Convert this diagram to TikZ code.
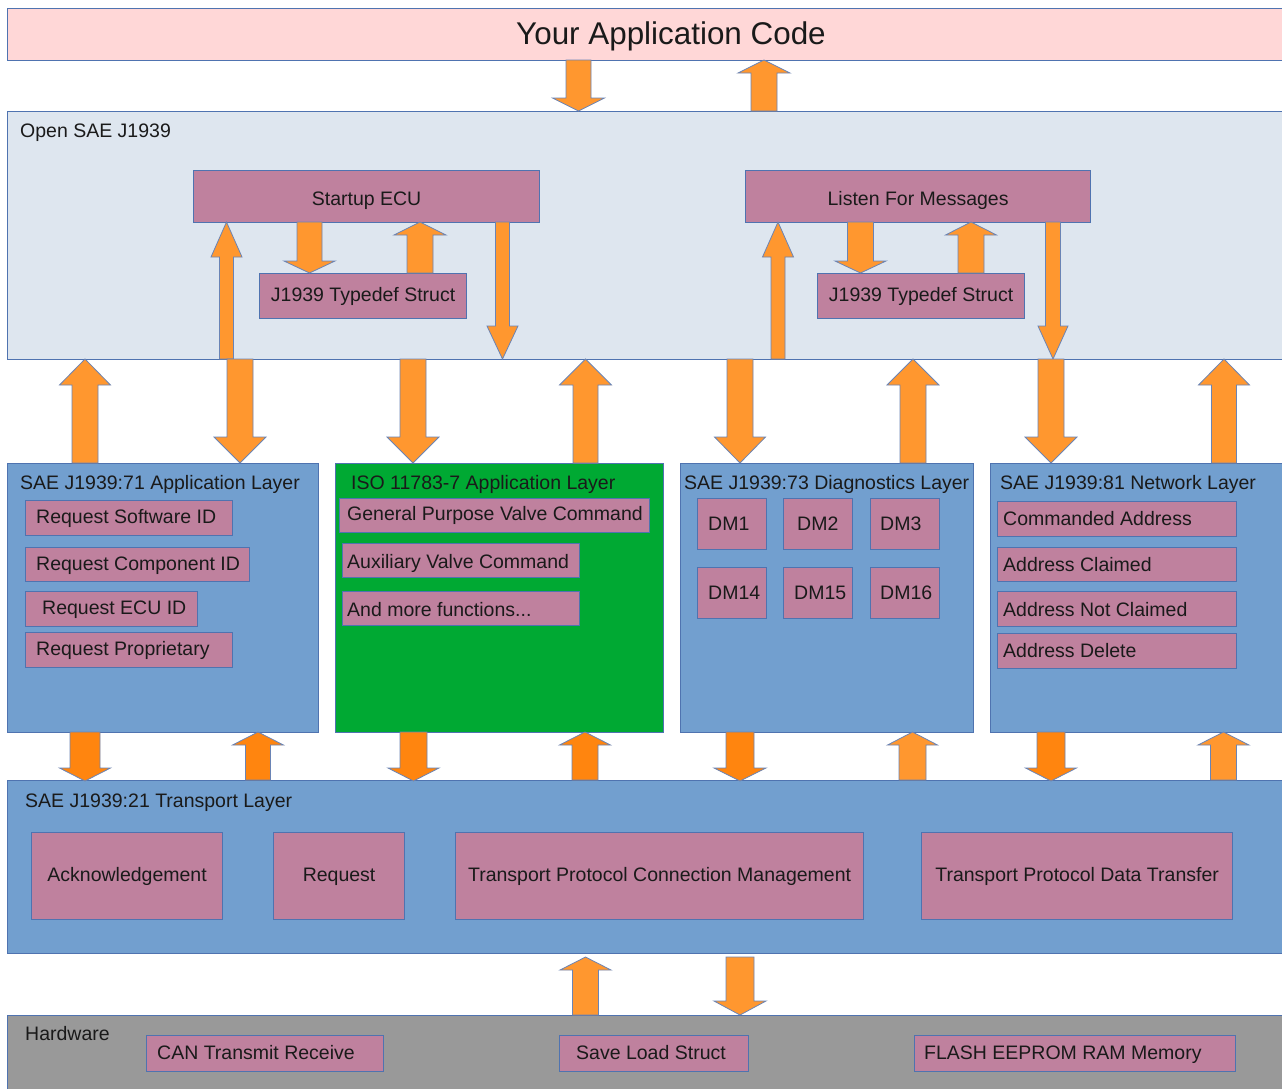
\documentclass[tikz,border=0pt]{standalone}
\usepackage{fontspec}
\setmainfont{Liberation Sans}
\definecolor{topc}{HTML}{FFD7D7}
\definecolor{openc}{HTML}{DEE6EF}
\definecolor{layerc}{HTML}{729FCF}
\definecolor{greenc}{HTML}{00A933}
\definecolor{pinkc}{HTML}{BF819E}
\definecolor{hwc}{HTML}{999999}
\definecolor{bordc}{HTML}{4F73B0}
\definecolor{arrbord}{HTML}{6A84B5}
\definecolor{orlight}{HTML}{FF972F}
\definecolor{ordark}{HTML}{FF850F}
\definecolor{txtc}{HTML}{1A1A1A}
\newcommand{\fs}{\fontsize{19.5pt}{22pt}\selectfont}
% #1 x, #2 tail y, #3 head base y, #4 tip y, #5 shaft half width, #6 head half width, #7 colour
\newcommand{\blockarrow}[7]{%
  \filldraw[draw=arrbord, line width=0.8pt, line join=miter, fill=#7]
    (#1-#5,#2) -- (#1+#5,#2) -- (#1+#5,#3) -- (#1+#6,#3) -- (#1,#4)
    -- (#1-#6,#3) -- (#1-#5,#3) -- cycle;}
\begin{document}
\begin{tikzpicture}[x=1pt,y=-1pt,
  box/.style={draw=bordc, line width=1.2pt, anchor=north west, inner sep=0pt, font=\fs, text=txtc},
  item/.style={box, fill=pinkc, text height=14pt, text depth=4pt},
  itemtxt/.style={anchor=west, inner sep=0pt, font=\fs, text=txtc, text height=14pt, text depth=4pt},
  lbl/.style={anchor=base west, inner sep=0pt, font=\fs, text=txtc}]
\useasboundingbox (0,0) rectangle (1282,1088);
\clip (0,0) rectangle (1282,1088);
\fill[white] (0,0) rectangle (1282,1088);

% application code
\node[box, fill=topc, minimum width=1290pt, minimum height=52pt] (app) at (7,8) {};
\node[anchor=base, inner sep=0pt, font=\fontsize{31.4pt}{34pt}\selectfont, text=txtc] (apptxt) at (671,44) {Your Application Code};

% Open SAE J1939
\node[box, fill=openc, minimum width=1290pt, minimum height=248pt] (open) at (7,111) {};
\node[lbl] (opentxt) at (20,137) {Open SAE J1939};
\node[item, minimum width=346pt, minimum height=52pt, text height=18pt, text depth=0pt] (startup) at (193,170) {Startup ECU};
\node[item, minimum width=207pt, minimum height=45pt] (td1) at (259,273) {J1939 Typedef Struct};
\node[item, minimum width=345pt, minimum height=52pt, text height=18pt, text depth=0pt] (listen) at (745,170) {Listen For Messages};
\node[item, minimum width=207pt, minimum height=45pt] (td2) at (817,273) {J1939 Typedef Struct};

% J1939:71
\node[box, fill=layerc, minimum width=311pt, minimum height=269pt] (l71) at (7,463) {};
\node[lbl] (l71txt) at (20,489) {SAE J1939:71 Application Layer};
\node[item, minimum width=207pt, minimum height=35pt] (rsid) at (25,500) {};
\node[itemtxt] at ([xshift=11pt]rsid.west) {Request Software ID};
\node[item, minimum width=224pt, minimum height=34pt] (rcid) at (25,547) {};
\node[itemtxt] at ([xshift=11pt,yshift=-1pt]rcid.west) {Request Component ID};
\node[item, minimum width=172pt, minimum height=35pt] (recu) at (25,591) {};
\node[itemtxt] at ([xshift=17pt]recu.west) {Request ECU ID};
\node[item, minimum width=207pt, minimum height=35pt] (rprop) at (25,632) {};
\node[itemtxt] at ([xshift=11pt]rprop.west) {Request Proprietary};

% ISO 11783-7
\node[box, fill=greenc, minimum width=328pt, minimum height=269pt] (iso) at (335,463) {};
\node[lbl] (isotxt) at (351,489) {ISO 11783-7 Application Layer};
\node[item, minimum width=310pt, minimum height=34pt] (gpvc) at (339,498) {};
\node[itemtxt] at ([xshift=8pt]gpvc.west) {General Purpose Valve Command};
\node[item, minimum width=237pt, minimum height=34pt] (avc) at (342,543) {};
\node[itemtxt] at ([xshift=5pt,yshift=-3pt]avc.west) {Auxiliary Valve Command};
\node[item, minimum width=237pt, minimum height=34pt] (amf) at (342,591) {};
\node[itemtxt] at ([xshift=5pt,yshift=-3pt]amf.west) {And more functions...};

% J1939:73
\node[box, fill=layerc, minimum width=293pt, minimum height=269pt] (l73) at (680,463) {};
\node[lbl] (l73txt) at (684,489) {SAE J1939:73 Diagnostics Layer};
\node[item, minimum width=69pt, minimum height=51pt] (dm1) at (697,498) {};
\node[itemtxt] at ([xshift=11pt,yshift=-1pt]dm1.west) {DM1};
\node[item, minimum width=69pt, minimum height=51pt] (dm2) at (783,498) {};
\node[itemtxt] at ([xshift=14pt,yshift=-1pt]dm2.west) {DM2};
\node[item, minimum width=69pt, minimum height=51pt] (dm3) at (870,498) {};
\node[itemtxt] at ([xshift=10pt,yshift=-1pt]dm3.west) {DM3};
\node[item, minimum width=69pt, minimum height=51pt] (dm14) at (697,567) {};
\node[itemtxt] at ([xshift=11pt,yshift=-1pt]dm14.west) {DM14};
\node[item, minimum width=69pt, minimum height=51pt] (dm15) at (783,567) {};
\node[itemtxt] at ([xshift=11pt,yshift=-1pt]dm15.west) {DM15};
\node[item, minimum width=69pt, minimum height=51pt] (dm16) at (870,567) {};
\node[itemtxt] at ([xshift=10pt,yshift=-1pt]dm16.west) {DM16};

% J1939:81
\node[box, fill=layerc, minimum width=300pt, minimum height=269pt] (l81) at (990,463) {};
\node[lbl] (l81txt) at (1000,489) {SAE J1939:81 Network Layer};
\node[item, minimum width=239pt, minimum height=35pt] (ca) at (997,501) {};
\node[itemtxt] at ([xshift=6pt,yshift=-1pt]ca.west) {Commanded Address};
\node[item, minimum width=239pt, minimum height=34pt] (acl) at (997,547) {};
\node[itemtxt] at ([xshift=6pt,yshift=-2pt]acl.west) {Address Claimed};
\node[item, minimum width=239pt, minimum height=35pt] (anc) at (997,591) {};
\node[itemtxt] at ([xshift=6pt,yshift=-2pt]anc.west) {Address Not Claimed};
\node[item, minimum width=239pt, minimum height=35pt] (ad) at (997,633) {};
\node[itemtxt] at ([xshift=6pt,yshift=-1pt]ad.west) {Address Delete};

% J1939:21 transport
\node[box, fill=layerc, minimum width=1290pt, minimum height=173pt] (tl) at (7,780) {};
\node[lbl] (tltxt) at (25,807) {SAE J1939:21 Transport Layer};
\node[item, minimum width=191pt, minimum height=87pt] (ack) at (31,832) {Acknowledgement};
\node[item, minimum width=131pt, minimum height=87pt] (req) at (273,832) {Request};
\node[item, minimum width=408pt, minimum height=87pt] (tpcm) at (455,832) {Transport Protocol Connection Management};
\node[item, minimum width=311pt, minimum height=87pt] (tpdt) at (921,832) {Transport Protocol Data Transfer};

% hardware
\node[box, fill=hwc, minimum width=1290pt, minimum height=120pt] (hw) at (7,1015) {};
\node[lbl] (hwtxt) at (25,1040) {Hardware};
\node[item, minimum width=237pt, minimum height=36pt] (can) at (146,1035) {};
\node[itemtxt] at ([xshift=11pt,yshift=-1pt]can.west) {CAN Transmit Receive};
\node[item, minimum width=189pt, minimum height=36pt] (sls) at (559,1035) {};
\node[itemtxt] at ([xshift=17pt,yshift=-1pt]sls.west) {Save Load Struct};
\node[item, minimum width=321pt, minimum height=36pt] (flash) at (914,1035) {};
\node[itemtxt] at ([xshift=10pt,yshift=-1pt]flash.west) {FLASH EEPROM RAM Memory};

% arrows: application <-> Open SAE J1939
\blockarrow{578.5}{60}{98}{111}{12.5}{26}{orlight}
\blockarrow{764}{111}{73}{60}{13}{26}{orlight}

% arrows inside Open SAE J1939
\blockarrow{226.5}{359}{257}{222}{7}{15.5}{orlight}
\blockarrow{309.5}{222}{261}{273}{12.5}{25.5}{orlight}
\blockarrow{420}{273}{235}{222}{13}{26}{orlight}
\blockarrow{502.5}{222}{326}{359}{7}{15.5}{orlight}
\blockarrow{778}{359}{257}{222}{7}{15.5}{orlight}
\blockarrow{860.5}{222}{261}{273}{13}{25.5}{orlight}
\blockarrow{971}{273}{235}{222}{13}{25.5}{orlight}
\blockarrow{1053}{222}{326}{359}{7.5}{15}{orlight}

% arrows: Open SAE J1939 <-> layers
\blockarrow{85}{463}{385}{359}{13}{25.5}{orlight}
\blockarrow{240}{359}{437}{463}{13}{26}{orlight}
\blockarrow{413}{359}{437}{463}{13}{26}{orlight}
\blockarrow{585.5}{463}{385}{359}{12.5}{26}{orlight}
\blockarrow{740}{359}{437}{463}{13}{25.5}{orlight}
\blockarrow{913}{463}{385}{359}{13}{26}{orlight}
\blockarrow{1051}{359}{437}{463}{13}{26}{orlight}
\blockarrow{1224}{463}{385}{359}{12.5}{25.5}{orlight}

% arrows: layers <-> transport
\blockarrow{85}{732}{768}{781}{15}{25.5}{ordark}
\blockarrow{258}{780}{745}{732}{12.5}{25.5}{ordark}
\blockarrow{413.5}{732}{768}{781}{13.5}{25.5}{ordark}
\blockarrow{585}{780}{745}{732}{13}{25.5}{ordark}
\blockarrow{740}{732}{768}{781}{14}{26}{ordark}
\blockarrow{912.5}{780}{745}{732}{13.5}{25}{orlight}
\blockarrow{1051}{732}{768}{781}{14}{25.5}{ordark}
\blockarrow{1223.5}{780}{745}{732}{13}{25.5}{orlight}

% arrows: transport <-> hardware
\blockarrow{585.5}{1015}{970}{957}{13}{25.5}{orlight}
\blockarrow{740}{957}{1001}{1015}{14}{26}{orlight}
\end{tikzpicture}
\end{document}
